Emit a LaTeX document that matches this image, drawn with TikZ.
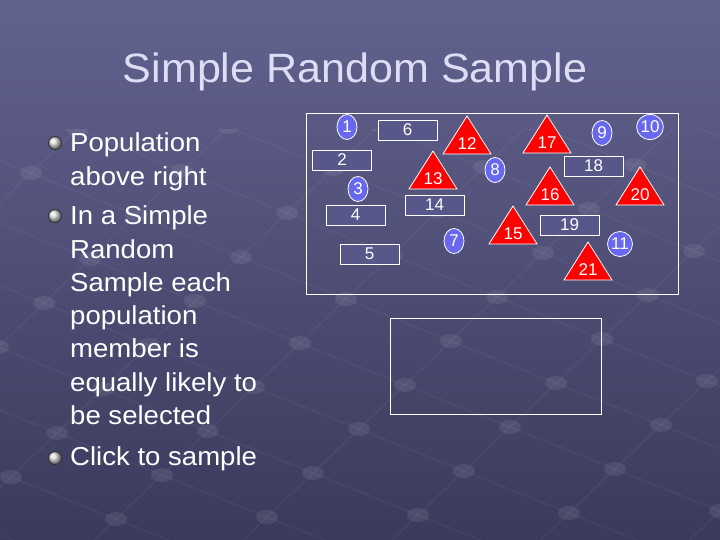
\documentclass[tikz,border=0pt]{standalone}
\usepackage{fontspec}
\setmainfont{Liberation Sans}
\newfontfamily\titlefont[FakeStretch=1.05]{Liberation Sans}
\newfontfamily\bodyfont[FakeStretch=1.06]{Liberation Sans}
\usetikzlibrary{shapes.geometric}
\definecolor{bgtop}{HTML}{62628F}
\definecolor{bgbot}{HTML}{3A3A5C}
\definecolor{titlecol}{HTML}{DDDDF5}
\definecolor{circblue}{HTML}{6868EE}
\definecolor{boxfill}{HTML}{57578A}
\definecolor{trired}{HTML}{FF0000}
\newcommand{\numfont}{\fontsize{17}{19}\selectfont}
\newcommand{\poptri}[4]{%
  \draw[tristyle] (#2,#3) -- ++(24,38) -- ++(-48,0) -- cycle;
  \node[trilabel] (#1) at (#2,#3+27.5) {#4};}
\tikzset{
  gridline/.style={white, opacity=0.06, line width=1pt},
  griddot/.style={white, opacity=0.08},
  popcirc/.style={ellipse, draw=white, line width=0.8pt, fill=circblue,
    minimum width=20pt, minimum height=25pt, inner sep=0pt, text=white, font=\numfont},
  popbox/.style={rectangle, draw=white, line width=0.8pt, fill=boxfill,
    minimum width=59pt, minimum height=20pt, inner sep=0pt, text=white, font=\numfont},
  tristyle/.style={draw=white, line width=0.8pt, fill=trired, line join=miter},
  trilabel/.style={inner sep=0pt, text=white, font=\numfont},
  frame/.style={draw=white, line width=1pt},
  bodyline/.style={anchor=base west, inner sep=0pt, text=white,
    font=\bodyfont\fontsize{26}{30}\selectfont},
  bulletball/.style={circle, shading=ball, ball color=white!75!gray,
    draw=black!80, line width=0.9pt, minimum size=13pt, inner sep=0pt},
}
\begin{document}
\begin{tikzpicture}[x=1pt,y=-1pt]
\useasboundingbox (0,0) rectangle (720,540);
\shade[top color=bgtop, bottom color=bgbot] (0,0) rectangle (720,540);
% faint background grid
\begin{scope}
  \clip (0,130) rectangle (720,540);
  \foreach \i in {-6,...,5} {
    \draw[gridline] (418+105*\i-138, 515+42*\i+132) -- (418+105*\i+552, 515+42*\i-528);
  }
  \foreach \j in {-3,...,12} {
    \draw[gridline] (418-630+46*\j, 515-252-44*\j) -- (418+630+46*\j, 515+252-44*\j);
  }
  \foreach \i in {-6,...,5} {
    \foreach \j in {-3,...,12} {
      \fill[griddot] (418+105*\i+46*\j, 515+42*\i-44*\j) ellipse (11 and 7);
    }
  }
\end{scope}
% title
\node[anchor=base, inner sep=0pt, text=titlecol, font=\titlefont\fontsize{41}{47}\selectfont]
  (title) at (355,82.5) {Simple Random Sample};
% bullets
\node[bulletball] (b1) at (55,143) {};
\node[bulletball] (b2) at (55,216) {};
\node[bulletball] (b3) at (55,458) {};
\node[bodyline] (l1) at (70,152) {Population};
\node[bodyline] (l2) at (70,185.2) {above right};
\node[bodyline] (l3) at (70,225) {In a Simple};
\node[bodyline] (l4) at (70,258.2) {Random};
\node[bodyline] (l5) at (70,291.4) {Sample each};
\node[bodyline] (l6) at (70,324.6) {population};
\node[bodyline] (l7) at (70,357.8) {member is};
\node[bodyline] (l8) at (70,391) {equally likely to};
\node[bodyline] (l9) at (70,424.2) {be selected};
\node[bodyline] (l10) at (70,465) {Click to sample};
% frames
\draw[frame] (306,114) rectangle (678,294);
\draw[frame] (390,318) rectangle (601,414);
% boxes
\node[popbox] (p6) at (407.5,130) {6};
\node[popbox] (p2) at (342,160) {2};
\node[popbox] (p4) at (355.5,215) {4};
\node[popbox] (p5) at (369.5,254) {5};
\node[popbox] (p14) at (434.5,205) {14};
\node[popbox] (p18) at (593.5,166) {18};
\node[popbox] (p19) at (569.5,225) {19};
% circles
\node[popcirc] (p1) at (347,127) {1};
\node[popcirc] (p3) at (358,189) {3};
\node[popcirc] (p7) at (454,241) {7};
\node[popcirc] (p8) at (495,170) {8};
\node[popcirc] (p9) at (602,133) {9};
\node[popcirc] (p10) at (650,127) {10};
\node[popcirc] (p11) at (620,244) {11};
% triangles
\poptri{p12}{467}{116}{12}
\poptri{p13}{433}{151}{13}
\poptri{p17}{547}{115}{17}
\poptri{p16}{550}{167}{16}
\poptri{p20}{640}{167}{20}
\poptri{p15}{513}{206}{15}
\poptri{p21}{588}{242}{21}
\end{tikzpicture}
\end{document}
